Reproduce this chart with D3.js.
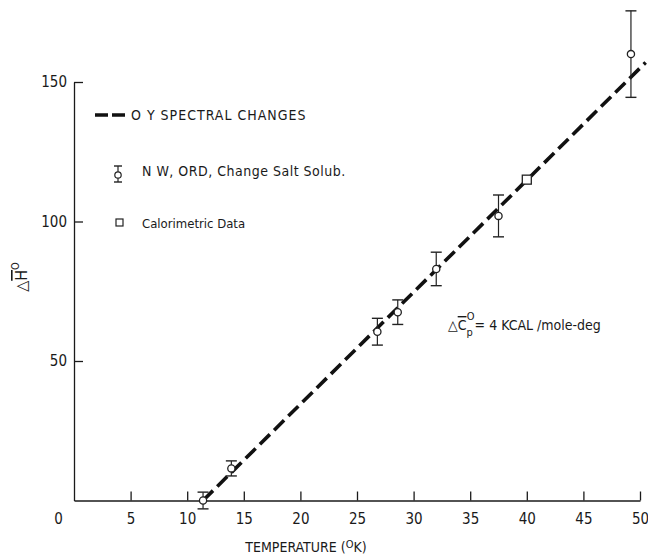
<!DOCTYPE html>
<html>
<head>
<meta charset="utf-8">
<script src="https://cdn.jsdelivr.net/npm/d3@7"></script>
<style>
  body { margin: 0; background: #fff; }
  svg text { font-family: "Liberation Sans Narrow", "DejaVu Sans Condensed", "Liberation Sans", sans-serif; fill: #1a1a1a; }
</style>
</head>
<body>
<div id="chart"></div>
<script>
// values
const xTicks = [0, 5, 10, 15, 20, 25, 30, 35, 40, 45, 50];
const yTicks = [50, 100, 150];

// N W, ORD, change salt solub. points (with error bars)
const solT = [11.4, 13.9, 26.8, 28.6, 32.0, 37.5, 49.2];
const solH = [0, 11.5, 60.5, 67.5, 83, 102, 160];
const solErr = [3, 2.7, 4.8, 4.4, 6, 7.5, 15.5];

// calorimetric data
const calT = [40];
const calH = [115];

// O Y spectral changes (dashed line)
const lineT = [11.4, 50.5];
const lineH = [0, 157];

// set the dimensions and margins of the graph
const margin = { top: 82, right: 8, bottom: 55.5, left: 74 };
const width = 648 - margin.left - margin.right;
const height = 556 - margin.top - margin.bottom;

const svg = d3.select("#chart")
  .append("svg")
  .attr("width", 648)
  .attr("height", 556)
  .append("g")
  .attr("transform", `translate(${margin.left},${margin.top})`);

const x = d3.scaleLinear().domain([0, 50]).range([0, width]);
const y = d3.scaleLinear().domain([0, 150]).range([height, 0]);

// X axis, ticks pointing inward
const xAxis = svg.append("g")
  .attr("transform", `translate(0,${height})`)
  .call(d3.axisBottom(x).tickValues(xTicks).tickSize(-9).tickSizeOuter(0).tickPadding(13));
xAxis.selectAll("text").style("font-size", "15px");
xAxis.selectAll(".tick").filter(d => d === 0).select("line").remove();
xAxis.selectAll(".tick").filter(d => d === 0).select("text").attr("dx", -16);

// Y axis
const yAxis = svg.append("g")
  .call(d3.axisLeft(y).tickValues(yTicks).tickSize(-9).tickSizeOuter(0).tickPadding(7));
yAxis.selectAll("text").style("font-size", "15px");

svg.selectAll(".domain").attr("stroke", "#1a1a1a").attr("stroke-width", 1.3);
svg.selectAll(".tick line").attr("stroke", "#1a1a1a").attr("stroke-width", 1.3);

// axis titles
svg.append("text")
  .attr("x", 232)
  .attr("y", height + 51)
  .attr("text-anchor", "middle")
  .style("font-size", "14px")
  .text("TEMPERATURE  (")
  .append("tspan").attr("dy", -4).style("font-size", "11px").text("O")
  .select(function () { return this.parentNode; })
  .append("tspan").attr("dy", 4).text("K)");

const yTitle = svg.append("text")
  .attr("transform", `translate(${-47},${195}) rotate(-90)`)
  .attr("text-anchor", "middle")
  .style("font-size", "16px");
yTitle.append("tspan").text("\u25B3");
yTitle.append("tspan").attr("text-decoration", "overline").text("H");
yTitle.append("tspan").attr("dy", -8).style("font-size", "11px").text("O");

// dashed line
const line = d3.line().x(d => x(d[0])).y(d => y(d[1]));
svg.append("path")
  .datum(lineT.map((t, i) => [t, lineH[i]]))
  .attr("d", line)
  .attr("fill", "none")
  .attr("stroke", "#111")
  .attr("stroke-width", 3.6)
  .attr("stroke-dasharray", "14,6");

// error bars
const sol = solT.map((t, i) => ({ t: t, h: solH[i], e: solErr[i] }));
const bars = svg.selectAll(".err")
  .data(sol)
  .join("g")
  .attr("class", "err");
bars.append("line")
  .attr("x1", d => x(d.t)).attr("x2", d => x(d.t))
  .attr("y1", d => y(d.h - d.e)).attr("y2", d => y(d.h + d.e))
  .attr("stroke", "#222").attr("stroke-width", 1.2);
bars.append("line")
  .attr("x1", d => x(d.t) - 5.5).attr("x2", d => x(d.t) + 5.5)
  .attr("y1", d => y(d.h - d.e)).attr("y2", d => y(d.h - d.e))
  .attr("stroke", "#222").attr("stroke-width", 1.4);
bars.append("line")
  .attr("x1", d => x(d.t) - 5.5).attr("x2", d => x(d.t) + 5.5)
  .attr("y1", d => y(d.h + d.e)).attr("y2", d => y(d.h + d.e))
  .attr("stroke", "#222").attr("stroke-width", 1.4);
bars.append("circle")
  .attr("cx", d => x(d.t)).attr("cy", d => y(d.h))
  .attr("r", 3.6)
  .attr("fill", "#fff").attr("stroke", "#222").attr("stroke-width", 1.3);

// calorimetric squares
svg.selectAll(".cal")
  .data(calT.map((t, i) => [t, calH[i]]))
  .join("rect")
  .attr("class", "cal")
  .attr("x", d => x(d[0]) - 4.5).attr("y", d => y(d[1]) - 4.5)
  .attr("width", 9).attr("height", 9)
  .attr("fill", "#fff").attr("stroke", "#222").attr("stroke-width", 1.3);

// Legend (positions in page pixels)
const legend = svg.append("g").attr("transform", `translate(${-margin.left},${-margin.top})`);

legend.append("line")
  .attr("x1", 95).attr("x2", 127).attr("y1", 115).attr("y2", 115)
  .attr("stroke", "#111").attr("stroke-width", 3.6)
  .attr("stroke-dasharray", "13,4");
legend.append("text")
  .attr("x", 131).attr("y", 120)
  .style("font-size", "14px")
  .style("letter-spacing", "1px")
  .text("O Y SPECTRAL CHANGES");

legend.append("line")
  .attr("x1", 118).attr("x2", 118).attr("y1", 166).attr("y2", 182)
  .attr("stroke", "#222").attr("stroke-width", 1.2);
legend.append("line")
  .attr("x1", 114).attr("x2", 122).attr("y1", 166).attr("y2", 166)
  .attr("stroke", "#222").attr("stroke-width", 1.4);
legend.append("line")
  .attr("x1", 114).attr("x2", 122).attr("y1", 182).attr("y2", 182)
  .attr("stroke", "#222").attr("stroke-width", 1.4);
legend.append("circle")
  .attr("cx", 118).attr("cy", 175).attr("r", 3.2)
  .attr("fill", "#fff").attr("stroke", "#222").attr("stroke-width", 1.2);
legend.append("text")
  .attr("x", 142).attr("y", 176)
  .style("font-size", "14px")
  .style("letter-spacing", "0.5px")
  .text("N W, ORD, Change Salt Solub.");

legend.append("rect")
  .attr("x", 116).attr("y", 219).attr("width", 7).attr("height", 7)
  .attr("fill", "#fff").attr("stroke", "#222").attr("stroke-width", 1.2);
legend.append("text")
  .attr("x", 142).attr("y", 228)
  .style("font-size", "13px")
  .text("Calorimetric Data");

// heat capacity note
const note = legend.append("text")
  .attr("x", 448).attr("y", 330)
  .style("font-size", "14px");
note.append("tspan").text("\u25B3");
note.append("tspan").attr("text-decoration", "overline").text("C");
note.append("tspan").attr("dy", 6).style("font-size", "11px").text("p");
note.append("tspan").attr("dx", -6).attr("dy", -16).style("font-size", "11px").text("O");
note.append("tspan").attr("dy", 10).text("= 4 KCAL /mole-deg");
</script>
</body>
</html>
